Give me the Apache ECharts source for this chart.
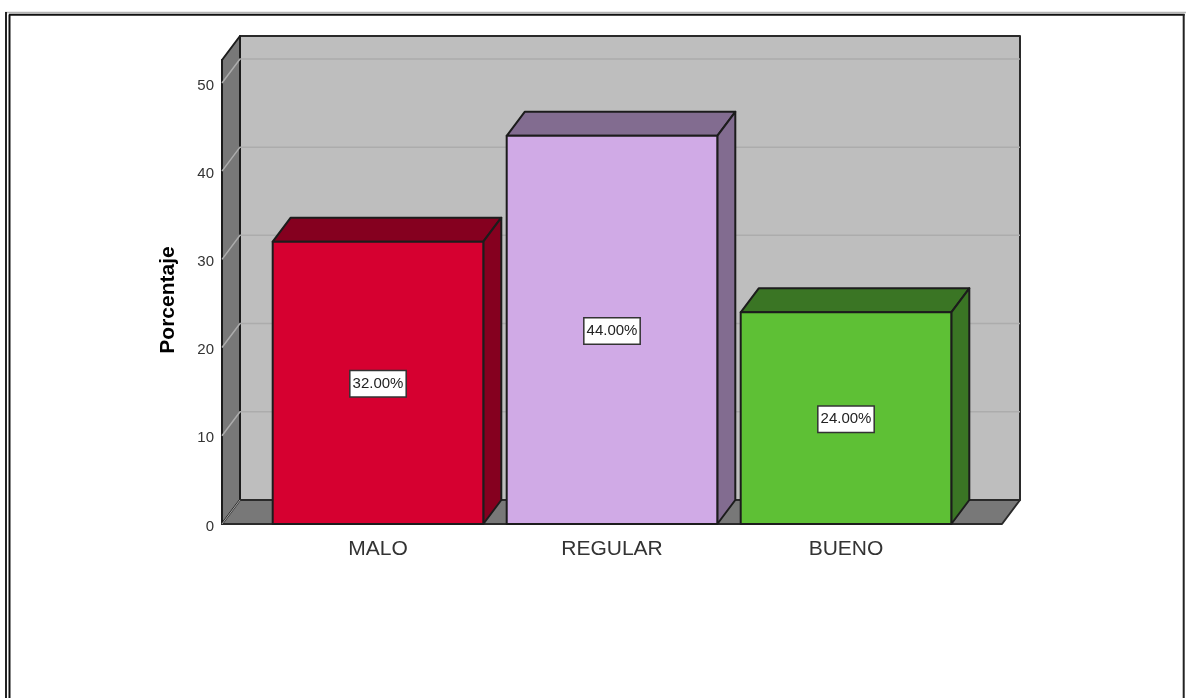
<!DOCTYPE html>
<html><head><meta charset="utf-8">
<style>html,body{margin:0;padding:0;background:#fff}#c{width:1186px;height:698px}</style>
<script src="https://cdn.jsdelivr.net/npm/echarts@6/dist/echarts.min.js"></script>
</head><body><div id="c"></div>
<script>
const categories = ['MALO', 'REGULAR', 'BUENO'];
const percentages = [32, 44, 24];
const faceColors = ['#d60030', '#d0aae6', '#5ec035'];
const depthColors = ['#85001f', '#826c90', '#3a7524'];
const gridTicks = [0, 10, 20, 30, 40, 50];
const DX = 18, DY = -24, YMAX = 52.6, WALL_PAD = 1 / 6, BAR_W = 0.9;
const EDGE = '#1c1c1c';

const chart = echarts.init(document.getElementById('c'));
function poly(pts, fill, stroke, lw) {
  return { type: 'polygon', shape: { points: pts }, style: { fill: fill, stroke: stroke || 'none', lineWidth: lw || 0, lineJoin: 'round' } };
}
function wallItem(params, api) {
  const band = api.size([1, 0])[0];
  const l = api.coord([0, 0])[0] - band / 2 - band * WALL_PAD;
  const r = api.coord([categories.length - 1, 0])[0] + band / 2 + band * WALL_PAD;
  const y0 = api.coord([0, 0])[1];
  const yT = api.coord([0, YMAX])[1];
  const kids = [
    poly([[l + DX, yT + DY], [r + DX, yT + DY], [r + DX, y0 + DY], [l + DX, y0 + DY]], '#bebebe', '#2a2a2a', 2),
    poly([[l, yT], [l + DX, yT + DY], [l + DX, y0 + DY], [l, y0]], '#787878', '#1c1c1c', 2),
    poly([[l, y0], [l + DX, y0 + DY], [r + DX, y0 + DY], [r, y0]], '#787878', '#2a2a2a', 2)
  ];
  gridTicks.forEach(function (t) {
    if (t === 0) {
      kids.push({ type: 'line', shape: { x1: l, y1: y0, x2: l + DX, y2: y0 + DY }, style: { stroke: '#a6a6a6', lineWidth: 1 } });
      return;
    }
    const y = api.coord([0, t])[1];
    kids.push({ type: 'polyline', shape: { points: [[l, y], [l + DX, y + DY], [r + DX, y + DY]] }, style: { fill: 'none', stroke: '#acacac', lineWidth: 1.5 } });
  });
  return { type: 'group', children: kids };
}
function barItem(params, api) {
  const i = api.value(0), v = api.value(1);
  const c = api.coord([i, v]), b = api.coord([i, 0]);
  const w = api.size([1, 0])[0] * BAR_W;
  const l = c[0] - w / 2, r = c[0] + w / 2, t = c[1], y0 = b[1];
  return {
    type: 'group', children: [
      poly([[l, t], [l + DX, t + DY], [r + DX, t + DY], [r, t]], depthColors[i], EDGE, 2),
      poly([[r, t], [r + DX, t + DY], [r + DX, y0 + DY], [r, y0]], depthColors[i], EDGE, 2),
      { type: 'rect', shape: { x: l, y: t, width: w, height: y0 - t }, style: { fill: faceColors[i], stroke: EDGE, lineWidth: 2, lineJoin: 'round' } },
      { type: 'text', z2: 10, style: {
          x: c[0], y: (t + y0) / 2 + 1, text: v.toFixed(2) + '%', align: 'center', verticalAlign: 'middle',
          fontFamily: 'Liberation Sans', fontSize: 15, fill: '#222', backgroundColor: '#fff',
          borderColor: '#333', borderWidth: 1.5, padding: [6, 2, 4, 2] } }
    ]
  };
}
chart.setOption({
  animation: false,
  backgroundColor: '#fff',
  grid: { left: 261, right: 223, top: 60, bottom: 174 },
  xAxis: {
    type: 'category', data: categories,
    axisLine: { show: false }, axisTick: { show: false }, splitLine: { show: false },
    axisLabel: { fontFamily: 'Liberation Sans', fontSize: 21, color: '#333', margin: 15 }
  },
  yAxis: {
    type: 'value', min: 0, max: YMAX, interval: 10, offset: 39,
    name: 'Porcentaje', nameLocation: 'middle', nameRotate: 90, nameGap: 43,
    nameTextStyle: { fontFamily: 'Liberation Sans', fontSize: 21, fontWeight: 'bold', color: '#000', padding: [0, 16, 0, 0] },
    axisLine: { show: true, lineStyle: { color: '#1c1c1c', width: 2 } },
    axisTick: { show: false }, splitLine: { show: false },
    axisLabel: { fontFamily: 'Liberation Sans', fontSize: 15, color: '#333', margin: 8, showMaxLabel: false, verticalAlign: 'top', lineHeight: 5 }
  },
  series: [
    { type: 'custom', renderItem: wallItem, data: [[0, 0]], silent: true, z: 1, encode: { x: 0, y: 1 } },
    { type: 'custom', renderItem: barItem, data: percentages.map(function (v, i) { return [i, v]; }), z: 2, encode: { x: 0, y: 1 } }
  ],
  graphic: [
    { type: 'line', shape: { x1: 5, y1: 12.5, x2: 1186, y2: 12.5 }, style: { stroke: '#b4b4b4', lineWidth: 1.5 } },
    { type: 'line', shape: { x1: 6, y1: 12, x2: 6, y2: 698 }, style: { stroke: '#222', lineWidth: 2 } },
    { type: 'line', shape: { x1: 9.5, y1: 14.5, x2: 9.5, y2: 698 }, style: { stroke: '#111', lineWidth: 2 } },
    { type: 'line', shape: { x1: 9, y1: 14.8, x2: 1184.5, y2: 14.8 }, style: { stroke: '#111', lineWidth: 2 } },
    { type: 'line', shape: { x1: 1183.7, y1: 14, x2: 1183.7, y2: 698 }, style: { stroke: '#222', lineWidth: 2 } }
  ]
});
</script></body></html>
